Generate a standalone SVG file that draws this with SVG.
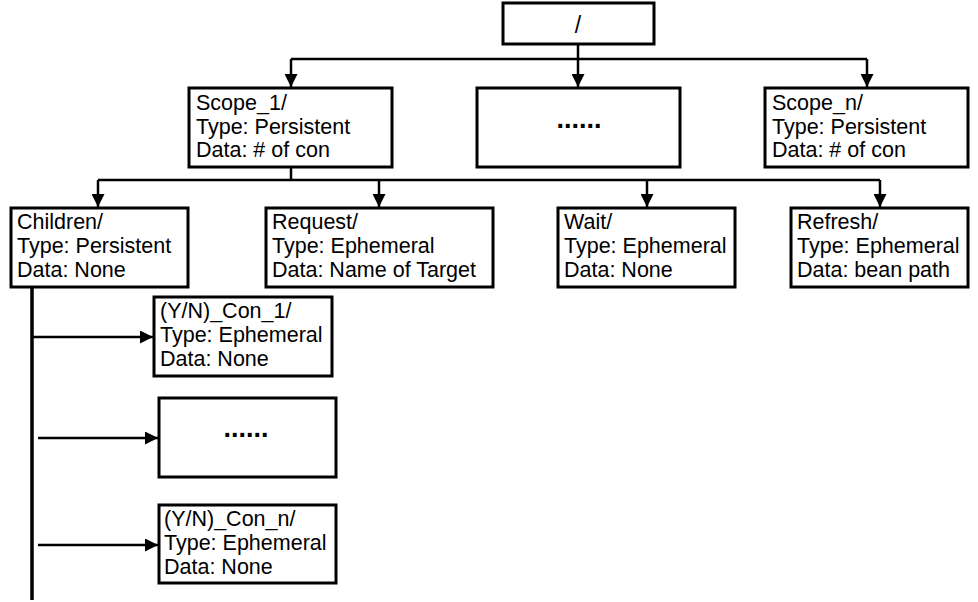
<svg xmlns="http://www.w3.org/2000/svg" width="978" height="602" viewBox="0 0 978 602">
<style>
.box{fill:#fff;stroke:#000;stroke-width:3}
.t{font-family:"Liberation Sans",Arial,sans-serif;font-size:21.5px;fill:#000}
.dots{font-family:"Liberation Sans",Arial,sans-serif;font-size:27px;font-weight:bold;fill:#000;text-anchor:middle}
.c{fill:none;stroke:#000;stroke-width:2.5}
</style>
<defs>
<marker id="ah" markerUnits="userSpaceOnUse" markerWidth="13" markerHeight="13" viewBox="0 0 13 13" refX="13" refY="6.5" orient="auto">
<path d="M0,0 L13,6.5 L0,13 Z" fill="#000"/>
</marker>
</defs>
<g id="connectors">
<path class="c" d="M578,44 V87" marker-end="url(#ah)"/>
<path class="c" d="M291,59 H867"/>
<path class="c" d="M291,59 V87" marker-end="url(#ah)"/>
<path class="c" d="M867,59 V87" marker-end="url(#ah)"/>
<path class="c" d="M291,167 V180"/>
<path class="c" d="M98,180 H880"/>
<path class="c" d="M98,180 V207" marker-end="url(#ah)"/>
<path class="c" d="M379,180 V207" marker-end="url(#ah)"/>
<path class="c" d="M647,180 V207" marker-end="url(#ah)"/>
<path class="c" d="M880,180 V207" marker-end="url(#ah)"/>
<path class="c" d="M32,287 V600" style="stroke-width:3.5"/>
<path class="c" d="M32,337 H153" marker-end="url(#ah)"/>
<path class="c" d="M38,438 H158" marker-end="url(#ah)"/>
<path class="c" d="M38,545 H158" marker-end="url(#ah)"/>
</g>
<g id="root"><rect class="box" x="503" y="3" width="151" height="41"/><text class="t" x="578" y="33" text-anchor="middle" style="font-size:23px">/</text></g>
<g id="scope1"><rect class="box" x="189" y="88" width="203" height="79"/><text class="t" x="196" y="110">Scope_1/</text><text class="t" x="196" y="133.5">Type: Persistent</text><text class="t" x="196" y="157">Data: # of con</text></g>
<g id="scopedots"><rect class="box" x="477" y="88" width="203" height="79"/><text class="dots" x="579" y="128">......</text></g>
<g id="scopen"><rect class="box" x="765" y="88" width="203" height="79"/><text class="t" x="772" y="110">Scope_n/</text><text class="t" x="772" y="133.5">Type: Persistent</text><text class="t" x="772" y="157">Data: # of con</text></g>
<g id="children"><rect class="box" x="11" y="208" width="177" height="79"/><text class="t" x="17" y="229">Children/</text><text class="t" x="17" y="253">Type: Persistent</text><text class="t" x="17" y="277">Data: None</text></g>
<g id="request"><rect class="box" x="266" y="208" width="227" height="79"/><text class="t" x="272" y="229">Request/</text><text class="t" x="272" y="253">Type: Ephemeral</text><text class="t" x="272" y="277">Data: Name of Target</text></g>
<g id="wait"><rect class="box" x="558" y="208" width="177" height="79"/><text class="t" x="564" y="229">Wait/</text><text class="t" x="564" y="253">Type: Ephemeral</text><text class="t" x="564" y="277">Data: None</text></g>
<g id="refresh"><rect class="box" x="791" y="208" width="177" height="79"/><text class="t" x="797" y="229">Refresh/</text><text class="t" x="797" y="253">Type: Ephemeral</text><text class="t" x="797" y="277">Data: bean path</text></g>
<g id="con1"><rect class="box" x="154" y="297" width="178" height="79"/><text class="t" x="160" y="318">(Y/N)_Con_1/</text><text class="t" x="160" y="342">Type: Ephemeral</text><text class="t" x="160" y="366">Data: None</text></g>
<g id="condots"><rect class="box" x="159" y="398" width="177" height="79"/><text class="dots" x="246" y="437">......</text></g>
<g id="conn"><rect class="box" x="159" y="505" width="177" height="78"/><text class="t" x="164" y="526">(Y/N)_Con_n/</text><text class="t" x="164" y="550">Type: Ephemeral</text><text class="t" x="164" y="574">Data: None</text></g>
</svg>
